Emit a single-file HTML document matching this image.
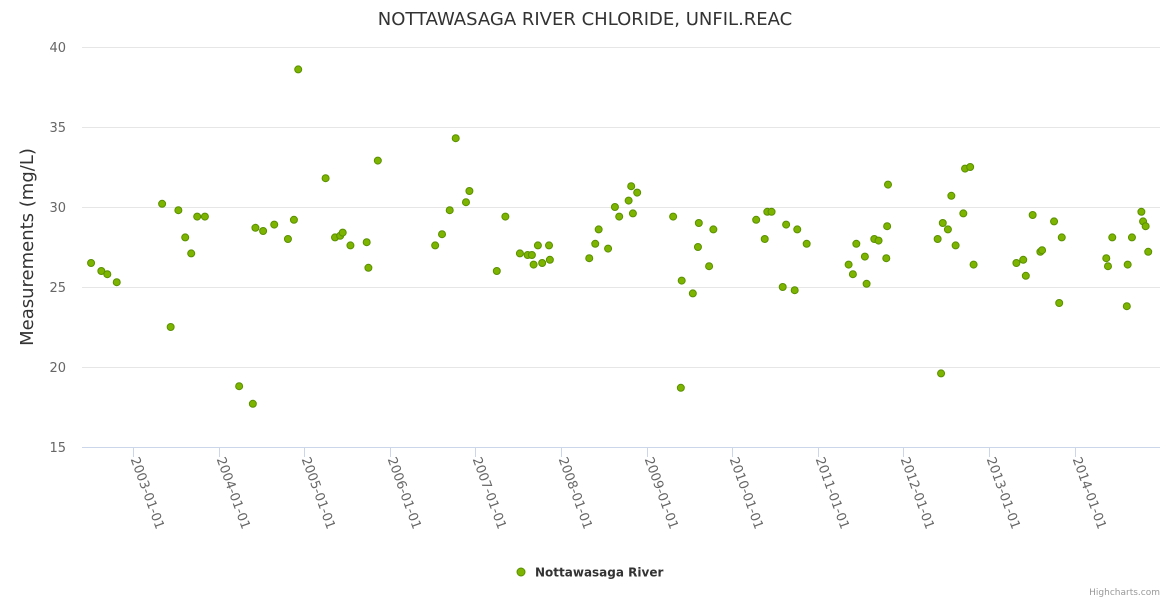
<!DOCTYPE html>
<html><head><meta charset="utf-8"><style>
body{margin:0;background:#fff;}
svg{display:block;font-family:"DejaVu Sans","Liberation Sans",sans-serif;}
</style></head><body>
<svg id="chart" width="1170" height="600">
<rect width="1170" height="600" fill="#fff"/>
<text x="585" y="25" text-anchor="middle" font-size="18" fill="#333">NOTTAWASAGA RIVER CHLORIDE, UNFIL.REAC</text>
<text transform="translate(33,247) rotate(-90)" text-anchor="middle" font-size="18" fill="#333">Measurements (mg/L)</text>
<g id="grid"></g><g id="xaxis"></g><g id="points"></g>
<g>
<circle cx="521" cy="572" r="4" fill="#7cb400" stroke="#5a9000" stroke-width="1"/>
<text x="535" y="576.5" font-size="12" font-weight="bold" fill="#333">Nottawasaga River</text>
</g>
<text x="1160" y="595" text-anchor="end" font-size="9" fill="#999">Highcharts.com</text>
</svg>
<script>
const yTicks=[15,20,25,30,35,40];
const xTickYears=[2003,2004,2005,2006,2007,2008,2009,2010,2011,2012,2013,2014];
const xTickLabels=["2003-01-01","2004-01-01","2005-01-01","2006-01-01","2007-01-01","2008-01-01","2009-01-01","2010-01-01","2011-01-01","2012-01-01","2013-01-01","2014-01-01"];
const dates=[2002.51,2002.63,2002.70,2002.81,2003.34,2003.44,2003.53,2003.61,2003.68,2003.75,2003.84,2004.24,2004.40,2004.43,2004.52,2004.65,2004.81,2004.88,2004.93,2005.25,2005.36,2005.42,2005.45,2005.54,2005.73,2005.75,2005.86,2006.53,2006.61,2006.70,2006.77,2006.89,2006.93,2007.25,2007.35,2007.52,2007.61,2007.66,2007.68,2007.73,2007.78,2007.86,2007.87,2008.33,2008.40,2008.44,2008.55,2008.63,2008.68,2008.79,2008.82,2008.84,2008.89,2009.31,2009.40,2009.41,2009.54,2009.60,2009.61,2009.73,2009.78,2010.28,2010.38,2010.41,2010.46,2010.59,2010.63,2010.73,2010.76,2010.87,2011.36,2011.41,2011.45,2011.55,2011.57,2011.66,2011.71,2011.80,2011.81,2011.82,2012.40,2012.44,2012.46,2012.52,2012.56,2012.61,2012.70,2012.72,2012.78,2012.82,2013.32,2013.40,2013.43,2013.51,2013.60,2013.62,2013.76,2013.82,2013.85,2014.37,2014.39,2014.44,2014.61,2014.62,2014.67,2014.78,2014.80,2014.83,2014.86];
const values=[26.5,26,25.8,25.3,30.2,22.5,29.8,28.1,27.1,29.4,29.4,18.8,17.7,28.7,28.5,28.9,28,29.2,38.6,31.8,28.1,28.2,28.4,27.6,27.8,26.2,32.9,27.6,28.3,29.8,34.3,30.3,31,26,29.4,27.1,27,27,26.4,27.6,26.5,27.6,26.7,26.8,27.7,28.6,27.4,30,29.4,30.4,31.3,29.6,30.9,29.4,18.7,25.4,24.6,27.5,29,26.3,28.6,29.2,28,29.7,29.7,25,28.9,24.8,28.6,27.7,26.4,25.8,27.7,26.9,25.2,28,27.9,26.8,28.8,31.4,28,19.6,29,28.6,30.7,27.6,29.6,32.4,32.5,26.4,26.5,26.7,25.7,29.5,27.2,27.3,29.1,24,28.1,26.8,26.3,28.1,23.8,26.4,28.1,29.7,29.1,28.8,27.2];
const NS='http://www.w3.org/2000/svg';
const x=v=>133+(v-2003)*85.6;
const y=v=>447-(v-15)*16;
function mk(tag,attrs,parent){const e=document.createElementNS(NS,tag);for(const k in attrs)e.setAttribute(k,attrs[k]);parent.appendChild(e);return e;}
const grid=document.getElementById('grid');
yTicks.forEach(t=>{
  const l=mk('line',{x1:82,x2:1160,y1:y(t)+0.5,y2:y(t)+0.5,stroke:t===15?'#ccd6eb':'#e6e6e6','stroke-width':1},grid);
  
  
  const tx=mk('text',{x:66,y:y(t)+5,'text-anchor':'end','font-size':13,fill:'#666'},grid);
  tx.textContent=t;
  
  
});
const xa=document.getElementById('xaxis');
xTickYears.forEach((yr,i)=>{
  const px=Math.round(x(yr))+0.5;
  const tk=mk('line',{x1:px,x2:px,y1:447,y2:457,stroke:'#ccd6eb'},xa);
  
  
  const tx=mk('text',{transform:`translate(${px-3},459) rotate(70)`,'font-size':13,fill:'#666'},xa);
  tx.textContent=xTickLabels[i];
  
  
});
const pts=document.getElementById('points');
dates.forEach((d,i)=>{
  const c=mk('circle',{cx:x(d),cy:y(values[i]),r:3.5,fill:'#7cb400',stroke:'#5a9000','stroke-width':1},pts);
  
  
});
</script>
</body></html>
